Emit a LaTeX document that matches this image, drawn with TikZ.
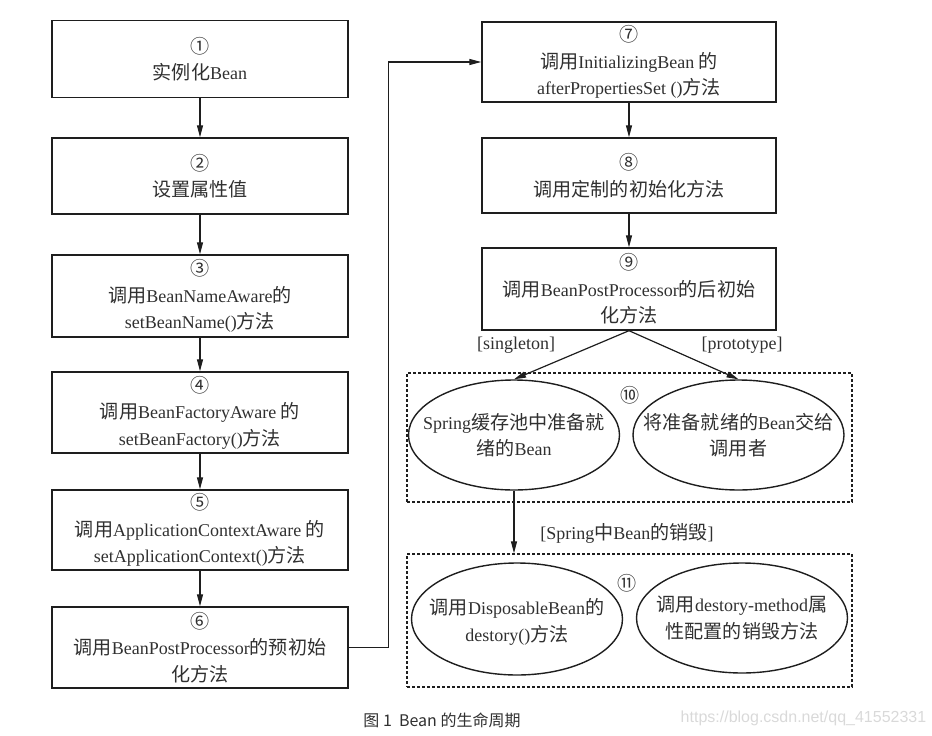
\documentclass[tikz,border=0pt]{standalone}
\usepackage{fontspec}
\setmainfont{Liberation Serif}
\newfontfamily\cjk[Scale=1.06]{Noto Sans CJK SC}
\newfontfamily\capfont{Noto Sans CJK SC}
\newfontfamily\wmfont{Liberation Sans}
\usetikzlibrary{arrows.meta,shapes.geometric}
\newcommand\zh[1]{{\cjk #1}}
\definecolor{ink}{HTML}{303030}
\definecolor{edge}{HTML}{1E1E1E}
\tikzset{
  stepbox/.style={draw=edge, line width=1.4pt, rectangle, minimum width=296pt, inner sep=0pt,
    align=center, text=ink, font=\fontsize{18}{26.5}\selectfont},
  oval/.style={draw=edge, line width=1.4pt, ellipse, minimum width=211pt, minimum height=110pt,
    inner sep=0pt},
  ovaltext/.style={align=center, text=ink, font=\fontsize{18}{26.5}\selectfont, inner sep=0pt},
  group/.style={draw=edge, line width=1.4pt, dash pattern=on 3pt off 2pt, rectangle, inner sep=0pt},
  arr/.style={draw=edge, line width=1.2pt, -{Triangle[length=12pt,width=6pt]}},
  lbl/.style={text=ink, font=\fontsize{18}{20}\selectfont, inner sep=0pt},
}
\begin{document}
\begin{tikzpicture}[x=1pt,y=-1pt]
\useasboundingbox (0,0) rectangle (932,736);
% left column
\node[stepbox, minimum height=77pt] (b1) at (200,59) {\zh{①}\\\zh{实例化}Bean};
\node[stepbox, minimum height=76pt] (b2) at (200,176) {\zh{②}\\\zh{设置属性值}};
\node[stepbox, minimum height=82pt] (b3) at (200,296) {\zh{③}\\\zh{调用}BeanNameAware\zh{的}\\setBeanName()\zh{方法}};
\node[stepbox, minimum height=81pt] (b4) at (200,412.5) {\zh{④}\\\zh{调用}BeanFactoryAware \zh{的}\\setBeanFactory()\zh{方法}};
\node[stepbox, minimum height=80pt] (b5) at (200,530) {\zh{⑤}\\\zh{调用}ApplicationContextAware \zh{的}\\setApplicationContext()\zh{方法}};
\node[stepbox, minimum height=81pt] (b6) at (200,647.5) {\zh{⑥}\\\zh{调用}BeanPostProcessor\zh{的预初始}\\\zh{化方法}};
% right column
\node[stepbox, minimum width=294pt, minimum height=80pt] (b7) at (629,62) {\zh{⑦}\\\zh{调用}InitializingBean \zh{的}\\afterPropertiesSet ()\zh{方法}};
\node[stepbox, minimum width=294pt, minimum height=75pt] (b8) at (629,175.5) {\zh{⑧}\\\zh{调用定制的初始化方法}};
\node[stepbox, minimum width=294pt, minimum height=82pt] (b9) at (629,289) {\zh{⑨}\\\zh{调用}BeanPostProcessor\zh{的后初始}\\\zh{化方法}};
% groups
\node[group, minimum width=445pt, minimum height=129pt] (g10) at (629.5,437.5) {};
\node[group, minimum width=445pt, minimum height=133pt] (g11) at (629.5,620.5) {};
\node[oval] (e1) at (514,435) {};
\node[oval] (e2) at (738.5,435) {};
\node[oval, minimum height=112pt] (e3) at (517,619) {};
\node[oval] (e4) at (742,618) {};
\node[ovaltext] (t1) at (e1.center) {Spring\zh{缓存池中准备就}\\\zh{绪的}Bean};
\node[ovaltext] (t2) at (e2.center) {\zh{将准备就绪的}Bean\zh{交给}\\\zh{调用者}};
\node[ovaltext] (t3) at ([yshift=-3pt]e3.center) {\zh{调用}DisposableBean\zh{的}\\destory()\zh{方法}};
\node[ovaltext] (t4) at (e4.center) {\zh{调用}destory-method\zh{属}\\\zh{性配置的销毁方法}};
\node[lbl] (n10) at (630,395) {\zh{⑩}};
\node[lbl] (n11) at (627,583) {\zh{⑪}};
% connectors
\draw[arr] (b1) -- (b2);
\draw[arr] (b2) -- (b3);
\draw[arr] (b3) -- (b4);
\draw[arr] (b4) -- (b5);
\draw[arr] (b5) -- (b6);
\draw[arr] (b6.east) -- ++(40,0) |- (b7.west);
\draw[arr] (b7) -- (b8);
\draw[arr] (b8) -- (b9);
\draw[arr] (b9.south) -- (e1.north);
\draw[arr] (b9.south) -- (e2.north);
\draw[arr] (e1.south) -- (e1.south |- g11.north);
\node[lbl] (ls) at (516,345) {[singleton]};
\node[lbl] (lp) at (742,345) {[prototype]};
\node[lbl] (ld) at (627,533) {[Spring\zh{中}Bean\zh{的销毁}]};
% caption
\node[inner sep=0pt, text=ink, font=\capfont\fontsize{16}{18}\selectfont] (cap) at (442,720) {图 1\ \ Bean 的生命周期};
\node[inner sep=0pt, text=black!15, font=\wmfont\fontsize{16}{19}\selectfont] (wm) at (803.5,718) {https://blog.csdn.net/qq\_41552331};
\end{tikzpicture}
\end{document}
